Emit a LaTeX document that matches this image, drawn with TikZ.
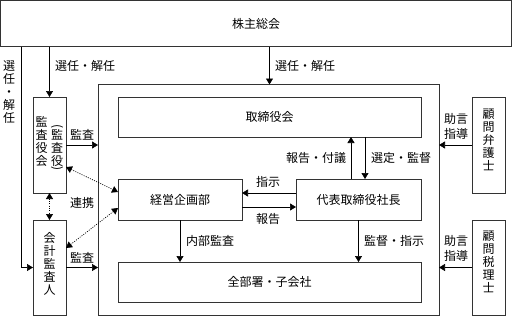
\documentclass[tikz,border=0pt]{standalone}
\usepackage{fontspec}
\setmainfont{Noto Sans CJK JP}
\usetikzlibrary{arrows.meta,calc}
\tikzset{
  box/.style={draw=black!80, line width=0.8pt, fill=white, inner sep=0pt, outer sep=0pt, font=\fontsize{12}{13}\selectfont},
  arr/.style={line width=0.6pt, -{Triangle[length=6pt,width=7pt]}},
  darr/.style={line width=0.7pt, dash pattern=on 1pt off 1.3pt, {Triangle[length=6pt,width=7pt]}-{Triangle[length=6pt,width=7pt]}},
  lbl/.style={font=\fontsize{12}{13}\selectfont, inner sep=0pt, align=center},
  vt/.style={font=\fontsize{12}{13}\selectfont, inner sep=0pt, align=center},
  par/.style={font=\fontsize{12}{13}\selectfont, inner sep=0pt, rotate=-90},
}
\begin{document}
\begin{tikzpicture}[x=1pt,y=-1pt]
\useasboundingbox (0,0) rectangle (513,317);
% boxes
\node[box, minimum width=511, minimum height=46] (kabu) at (256,23.5) {株主総会};
\node[box, minimum width=341, minimum height=231] (outer) at (268.5,200) {};
\node[box, minimum width=33, minimum height=96] (kansa) at (49.5,145) {};
\node[box, minimum width=33, minimum height=95] (kaikei) at (49.5,267.5) {};
\node[box, minimum width=303, minimum height=40] (tori) at (269.5,117) {取締役会};
\node[box, minimum width=124, minimum height=41] (keiei) at (180,199.5) {経営企画部};
\node[box, minimum width=125, minimum height=41] (daihyo) at (358.5,199.5) {代表取締役社長};
\node[box, minimum width=303, minimum height=40] (zenbu) at (269.5,282) {全部署・子会社};
\node[box, minimum width=33, minimum height=96] (bengo) at (488.5,145) {};
\node[box, minimum width=33, minimum height=95] (zeiri) at (488.5,267.5) {};
% vertical texts
\node[vt] (t1) at (41.5,141) {監\\査\\役\\会};
\node[vt] (t2) at (57,148) {監\\査\\役};
\node[par] (p1) at (57,127) {(};
\node[par] (p2) at (57,169) {)};
\node[vt] (t3) at (49.5,264) {会\\計\\監\\査\\人};
\node[vt] (t4) at (488.5,140) {顧\\問\\弁\\護\\士};
\node[vt] (t5) at (488.5,262) {顧\\問\\税\\理\\士};
\node[vt] (t6) at (9,92) {選\\任\\・\\解\\任};
% connectors
\coordinate (lx) at (21,0);
\draw[arr] (kabu.south -| kansa.north) -- (kansa.north);
\draw[arr] (kabu.south -| tori.north) -- (outer.north -| tori.north);
\draw[arr] (kabu.south -| lx) -- (lx |- kaikei.west) -- (kaikei.west);
\draw[arr] (kansa.east) -- (kansa.east -| outer.west);
\draw[arr] (kaikei.east) -- (kaikei.east -| outer.west);
\draw[arr] (bengo.west) -- (bengo.west -| outer.east);
\draw[arr] (zeiri.west) -- (zeiri.west -| outer.east);
\draw[darr] ([yshift=-22pt]kansa.east) -- ([yshift=7.5pt]keiei.west);
\draw[darr] ([yshift=19.5pt]kaikei.east) -- ([yshift=-8.5pt]keiei.west);
\draw[darr] (kansa.south) -- (kaikei.north);
\draw[arr] ([xshift=-7.5pt]daihyo.north) -- ([xshift=-7.5pt]daihyo.north |- tori.south);
\draw[arr] ([xshift=6.5pt]daihyo.north |- tori.south) -- ([xshift=6.5pt]daihyo.north);
\draw[arr] ([yshift=6.5pt]daihyo.west) -- ([yshift=6.5pt]daihyo.west -| keiei.east);
\draw[arr] ([yshift=-7.5pt]keiei.east) -- ([yshift=-7.5pt]keiei.east -| daihyo.west);
\draw[arr] (keiei.south) -- (keiei.south |- zenbu.north);
\draw[arr] (daihyo.south) -- (daihyo.south |- zenbu.north);
% labels
\node[lbl] (l1) at (85,66) {選任・解任};
\node[lbl] (l2) at (305,66) {選任・解任};
\node[lbl] (l3) at (82,135) {監査};
\node[lbl] (l4) at (82,258) {監査};
\node[lbl] (l5) at (82,203) {連携};
\node[lbl] (l6) at (316,158) {報告・付議};
\node[lbl] (l7) at (401,158) {選定・監督};
\node[lbl] (l8) at (268,182) {指示};
\node[lbl] (l9) at (268,219) {報告};
\node[lbl] (l10) at (210,241) {内部監査};
\node[lbl] (l11) at (394,241) {監督・指示};
\node[lbl, align=center] (l12) at (456,126) {助言\\[2pt]指導};
\node[lbl, align=center] (l13) at (456,248) {助言\\[2pt]指導};
\end{tikzpicture}
\end{document}
